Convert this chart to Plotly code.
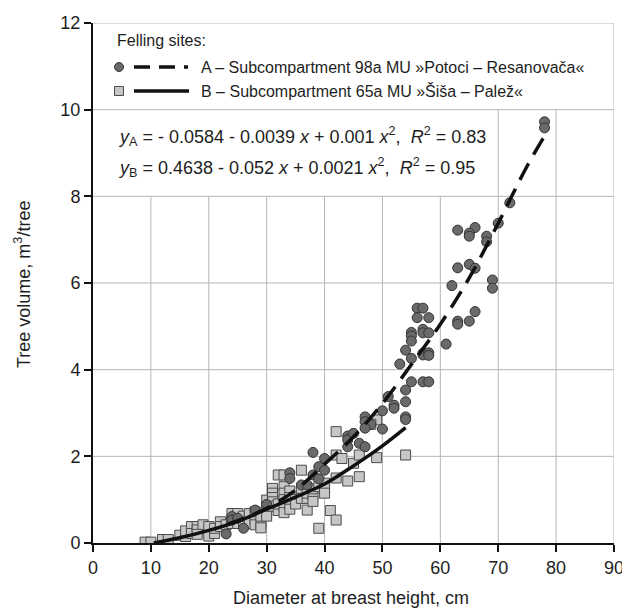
import plotly.graph_objects as go

# ---------------- data ----------------
# Felling site A (circles)
a_x = [78, 78, 72, 70, 68, 68, 66, 65, 65, 63, 63, 65, 66, 62, 69, 69, 63, 63, 65, 66, 61,
       56, 57, 56, 58, 55, 55, 55, 57, 57, 58, 54, 55, 57, 57, 58, 58, 53, 55, 57, 58,
       51, 54, 54, 52, 52, 50, 54, 54, 47, 47, 48, 50, 47, 46, 47, 44, 44, 45, 44,
       38, 40, 39, 40, 34, 34, 38, 39, 36, 37, 30, 28, 26, 24, 24, 23, 25]
a_y = [9.72, 9.58, 7.85, 7.38, 7.08, 6.95, 7.28, 7.15, 7.08, 7.22, 6.35, 6.43, 6.34, 5.94, 6.07, 5.88, 5.12, 5.05, 5.12, 5.34, 4.59,
       5.42, 5.42, 5.20, 5.20, 4.86, 4.78, 4.66, 4.93, 4.85, 4.85, 4.45, 4.26, 4.38, 4.34, 4.39, 4.33, 4.13, 3.72, 3.72, 3.72,
       3.38, 3.53, 3.26, 3.18, 3.11, 3.05, 2.91, 2.85, 2.91, 2.80, 2.74, 2.63, 2.65, 2.30, 2.22, 2.47, 2.38, 2.53, 2.22,
       2.09, 1.95, 1.76, 1.68, 1.62, 1.49, 1.57, 1.48, 1.34, 1.34, 0.89, 0.76, 0.34, 0.61, 0.53, 0.21, 0.57]

# Felling site B (squares)
b_x = [9, 10, 12, 13, 15, 16, 16, 17, 17, 18, 18, 19, 18, 20, 20, 21, 21, 22, 22, 23,
       24, 24, 24, 25, 25, 25, 26, 26, 27, 27, 27, 28, 28, 28, 29, 29, 29,
       30, 30, 30, 30, 31, 31, 31, 31, 31, 32, 32, 32, 33, 33, 33, 33, 33, 33,
       34, 34, 34, 34, 35, 35, 36, 36, 36, 37, 37, 37, 38, 38, 38, 39, 39,
       40, 40, 40, 41, 42, 42, 42, 42, 43, 44, 45, 46, 46, 49, 49, 54, 48]
b_y = [0.02, 0.02, 0.08, 0.08, 0.18, 0.15, 0.28, 0.38, 0.22, 0.38, 0.30, 0.42, 0.20, 0.38, 0.16, 0.22, 0.34, 0.49, 0.38, 0.42,
       0.55, 0.68, 0.45, 0.68, 0.57, 0.45, 0.50, 0.62, 0.58, 0.45, 0.68, 0.55, 0.42, 0.72, 0.45, 0.35, 0.62,
       0.99, 0.84, 0.72, 0.62, 1.26, 1.15, 1.05, 0.95, 0.85, 1.57, 0.75, 0.90, 1.57, 1.30, 1.15, 1.00, 0.84, 0.70,
       1.20, 1.05, 0.90, 0.78, 1.00, 0.90, 1.68, 1.20, 1.03, 0.76, 1.03, 1.15, 1.11, 0.96, 1.25, 0.34, 1.30,
       1.38, 1.26, 1.15, 0.75, 0.53, 2.57, 2.03, 1.50, 1.95, 1.43, 1.84, 2.03, 1.53, 2.84, 1.97, 2.03, 2.74]

# Regression curves, as drawn in the picture
fit_a_x = [23, 27, 30, 35, 40, 45, 50, 55, 60, 65, 70, 75, 78.3]
fit_a_y = [0.42, 0.62, 0.80, 1.22, 1.82, 2.45, 3.22, 4.12, 5.05, 6.12, 7.38, 8.70, 9.46]
fit_b_x = [10.5, 15, 20, 25, 30, 35, 40, 45, 50, 54]
fit_b_y = [0.0, 0.12, 0.29, 0.50, 0.78, 1.06, 1.36, 1.78, 2.24, 2.66]

x_ticks = [0, 10, 20, 30, 40, 50, 60, 70, 80, 90]
y_ticks = [0, 2, 4, 6, 8, 10, 12]

label_a = "A – Subcompartment 98a MU »Potoci – Resanovača«"
label_b = "B – Subcompartment 65a MU »Šiša – Palež«"
legend_title = "Felling sites:"
eq_a = "<i>y</i><sub>A</sub> = - 0.0584 - 0.0039 <i>x</i> + 0.001 <i>x</i><sup>2</sup>,  <i>R</i><sup>2</sup> = 0.83"
eq_b = "<i>y</i><sub>B</sub> = 0.4638 - 0.052 <i>x</i> + 0.0021 <i>x</i><sup>2</sup>,  <i>R</i><sup>2</sup> = 0.95"
x_title = "Diameter at breast height, cm"
y_title = "Tree volume, m<sup>3</sup>/tree"

# ---------------- styling ----------------
FONT = "Liberation Sans Narrow, Arial Narrow, Liberation Sans, Arial, sans-serif"
TXT = "#1e1e1e"
GRID = "#b5b5b5"
CIRC_FILL = "#6a6a6a"
CIRC_LINE = "#333333"
SQ_FILL = "#c6c6c6"
SQ_LINE = "#4c4c4c"

W, H = 622, 613
ML, MR, MT, MB = 93, 8, 23, 70
PW, PH = W - ML - MR, H - MT - MB


def px(page_x):
    return (page_x - ML) / PW


def py(page_y):
    return (H - MB - page_y) / PH


fig = go.Figure()

fig.add_trace(go.Scatter(x=b_x, y=b_y, mode="markers", showlegend=False,
                         marker=dict(symbol="square", size=10, color=SQ_FILL,
                                     line=dict(color=SQ_LINE, width=1))))
fig.add_trace(go.Scatter(x=a_x, y=a_y, mode="markers", showlegend=False,
                         marker=dict(symbol="circle", size=10, color=CIRC_FILL,
                                     line=dict(color=CIRC_LINE, width=1))))
fig.add_trace(go.Scatter(x=fit_a_x, y=fit_a_y, mode="lines", showlegend=False,
                         line=dict(color="#111111", width=3.5, dash="19px,10px", shape="spline")))
fig.add_trace(go.Scatter(x=fit_b_x, y=fit_b_y, mode="lines", showlegend=False,
                         line=dict(color="#111111", width=3.5, shape="spline")))

shapes = []
# gridlines (partial, as in the original)
for yv in y_ticks[1:]:
    shapes.append(dict(type="line", xref="x", yref="y", x0=0, x1=90, y0=yv, y1=yv,
                       line=dict(color=GRID, width=1), layer="below"))
for xv in x_ticks[1:]:
    top = 8 if xv <= 60 else (10 if xv < 90 else 12)
    shapes.append(dict(type="line", xref="x", yref="y", x0=xv, x1=xv, y0=0, y1=top,
                       line=dict(color=GRID, width=1), layer="below"))

# legend symbols
rowA, rowB = 67, 91
shapes.append(dict(type="circle", xref="paper", yref="paper", xsizemode="pixel", ysizemode="pixel",
                   xanchor=px(119), yanchor=py(rowA), x0=-4.5, x1=4.5, y0=-4.5, y1=4.5,
                   fillcolor=CIRC_FILL, line=dict(color=CIRC_LINE, width=1)))
shapes.append(dict(type="rect", xref="paper", yref="paper", xsizemode="pixel", ysizemode="pixel",
                   xanchor=px(119), yanchor=py(rowB), x0=-4.5, x1=4.5, y0=-4.5, y1=4.5,
                   fillcolor=SQ_FILL, line=dict(color=SQ_LINE, width=1)))
shapes.append(dict(type="line", xref="paper", yref="paper", x0=px(134), x1=px(188),
                   y0=py(rowA), y1=py(rowA), line=dict(color="#111111", width=3.5, dash="16px,9px")))
shapes.append(dict(type="line", xref="paper", yref="paper", x0=px(134), x1=px(189),
                   y0=py(rowB), y1=py(rowB), line=dict(color="#111111", width=3.5)))

LEG = 16
EQ = 18
TT = 18
annotations = [
    dict(text=legend_title, x=px(115), y=py(41), xref="paper", yref="paper",
         xanchor="left", yanchor="middle", showarrow=False, font=dict(size=LEG, color=TXT, family=FONT)),
    dict(text=label_a, x=px(199), y=py(rowA), xref="paper", yref="paper",
         xanchor="left", yanchor="middle", showarrow=False, font=dict(size=LEG, color=TXT, family=FONT)),
    dict(text=label_b, x=px(199), y=py(rowB), xref="paper", yref="paper",
         xanchor="left", yanchor="middle", showarrow=False, font=dict(size=LEG, color=TXT, family=FONT)),
    dict(text=eq_a, x=px(116), y=py(136), xref="paper", yref="paper",
         xanchor="left", yanchor="middle", showarrow=False, font=dict(size=EQ, color=TXT, family=FONT)),
    dict(text=eq_b, x=px(116), y=py(167), xref="paper", yref="paper",
         xanchor="left", yanchor="middle", showarrow=False, font=dict(size=EQ, color=TXT, family=FONT)),
    dict(text=x_title, x=px(351), y=py(598), xref="paper", yref="paper",
         xanchor="center", yanchor="middle", showarrow=False, font=dict(size=TT, color=TXT, family=FONT)),
    dict(text=y_title, x=px(22), y=py(285), xref="paper", yref="paper", textangle=-90,
         xanchor="center", yanchor="middle", showarrow=False, font=dict(size=TT, color=TXT, family=FONT)),
]

axis_common = dict(showgrid=False, zeroline=False, showline=True, linecolor="#111111", linewidth=2,
                   ticks="outside", ticklen=7, tickwidth=1.5, tickcolor="#111111",
                   ticklabeloverflow="allow",
                   tickfont=dict(size=18, color=TXT, family=FONT))

fig.update_layout(
    width=W, height=H,
    margin=dict(l=ML, r=MR, t=MT, b=MB, autoexpand=False),
    paper_bgcolor="white", plot_bgcolor="white",
    xaxis=dict(range=[0, 90], tickvals=x_ticks, **axis_common),
    yaxis=dict(range=[0, 12], tickvals=y_ticks, **axis_common),
    shapes=shapes, annotations=annotations,
    font=dict(family=FONT, color=TXT),
)

# remove the browser's default 8px page margin so the figure fills the window exactly
fig.write_html("out.html",
               config={"displayModeBar": False},
               post_script="document.body.style.margin='0';document.body.style.overflow='hidden';")
